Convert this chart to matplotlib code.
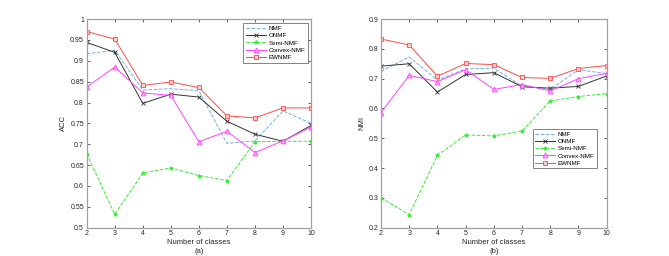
import numpy as np
import matplotlib
matplotlib.use("Agg")
import matplotlib.pyplot as plt

classes = [2, 3, 4, 5, 6, 7, 8, 9, 10]
methods = ["NMF", "ONMF", "Semi-NMF", "Convex-NMF", "EWNMF"]

# ACC values (panel a)
acc_nmf = [0.917, 0.925, 0.830, 0.833, 0.828, 0.702, 0.708, 0.780, 0.750]
acc_onmf = [0.944, 0.920, 0.798, 0.820, 0.813, 0.755, 0.724, 0.707, 0.745]
acc_semi = [0.677, 0.532, 0.631, 0.643, 0.625, 0.613, 0.706, 0.707, 0.707]
acc_convex = [0.837, 0.885, 0.823, 0.817, 0.706, 0.731, 0.680, 0.708, 0.741]
acc_ewnmf = [0.970, 0.952, 0.841, 0.849, 0.836, 0.768, 0.763, 0.787, 0.787]

# NMI values (panel b)
nmi_nmf = [0.725, 0.773, 0.695, 0.733, 0.735, 0.675, 0.663, 0.730, 0.717]
nmi_onmf = [0.742, 0.750, 0.655, 0.714, 0.720, 0.673, 0.668, 0.674, 0.709]
nmi_semi = [0.300, 0.244, 0.443, 0.511, 0.508, 0.524, 0.625, 0.640, 0.650]
nmi_convex = [0.586, 0.711, 0.690, 0.730, 0.664, 0.680, 0.659, 0.700, 0.718]
nmi_ewnmf = [0.833, 0.813, 0.708, 0.751, 0.747, 0.704, 0.701, 0.734, 0.744]

acc_ticks = [0.5, 0.55, 0.6, 0.65, 0.7, 0.75, 0.8, 0.85, 0.9, 0.95, 1]
acc_ticklabels = ["0.5", "0.55", "0.6", "0.65", "0.7", "0.75", "0.8", "0.85", "0.9", "0.95", "1"]
nmi_ticks = [0.2, 0.3, 0.4, 0.5, 0.6, 0.7, 0.8, 0.9]
nmi_ticklabels = ["0.2", "0.3", "0.4", "0.5", "0.6", "0.7", "0.8", "0.9"]

styles = [
    dict(color="#6fb3e0", linestyle="--", marker=None),
    dict(color="#333333", linestyle="-", marker="x", markersize=2.5),
    dict(color="#33ee33", linestyle="--", marker="*", markersize=3),
    dict(color="#ff44ff", linestyle="-", marker="^", markersize=3.5, markerfacecolor="#ffaaff"),
    dict(color="#ff4a4a", linestyle="-", marker="s", markersize=3.5, markerfacecolor="#ffcccc"),
]

plt.rcParams["font.family"] = "Liberation Sans"
plt.rcParams["font.size"] = 5

fig = plt.figure(figsize=(6.69, 2.56), dpi=100)
ax_a = fig.add_axes([0.1296, 0.1106, 0.3353, 0.815])
ax_b = fig.add_axes([0.5695, 0.1106, 0.3373, 0.815])


def draw(ax, series, ylim, ticks, ticklabels, ylabel, tag, legend_loc, legend_anchor):
    for name, vals, st in zip(methods, series, styles):
        ax.plot(classes, vals, label=name, linewidth=0.7, markeredgewidth=0.6, **st)
    ax.set_xlim(2, 10)
    ax.set_ylim(*ylim)
    ax.set_xticks(classes)
    ax.set_yticks(ticks)
    ax.set_yticklabels(ticklabels)
    ax.tick_params(direction="in", length=2, width=0.5, top=True, right=True,
                   colors="#262626", pad=2, labelsize=5)
    for sp in ax.spines.values():
        sp.set_color("#a0a0a0")
        sp.set_linewidth(0.9)
    ax.set_xlabel("Number of classes", fontsize=5.5, labelpad=1, color="#262626")
    ax.set_ylabel(ylabel, fontsize=5.5, labelpad=2, color="#262626")
    ax.text(0.5, -0.115, tag, transform=ax.transAxes, ha="center", va="center",
            fontsize=5.5, color="#262626")
    leg = ax.legend(loc=legend_loc, bbox_to_anchor=legend_anchor, fontsize=4.5,
                    frameon=True, fancybox=False, edgecolor="#262626",
                    handlelength=3.2, handletextpad=0.4, borderpad=0.4,
                    labelspacing=0.3, borderaxespad=0)
    leg.get_frame().set_linewidth(0.5)


draw(ax_a, [acc_nmf, acc_onmf, acc_semi, acc_convex, acc_ewnmf],
     (0.5, 1.0), acc_ticks, acc_ticklabels, "ACC", "(a)",
     "upper right", (0.985, 0.98))
draw(ax_b, [nmi_nmf, nmi_onmf, nmi_semi, nmi_convex, nmi_ewnmf],
     (0.2, 0.9), nmi_ticks, nmi_ticklabels, "NMI", "(b)",
     "upper right", (0.957, 0.473))

fig.savefig("out.png", dpi=100)
